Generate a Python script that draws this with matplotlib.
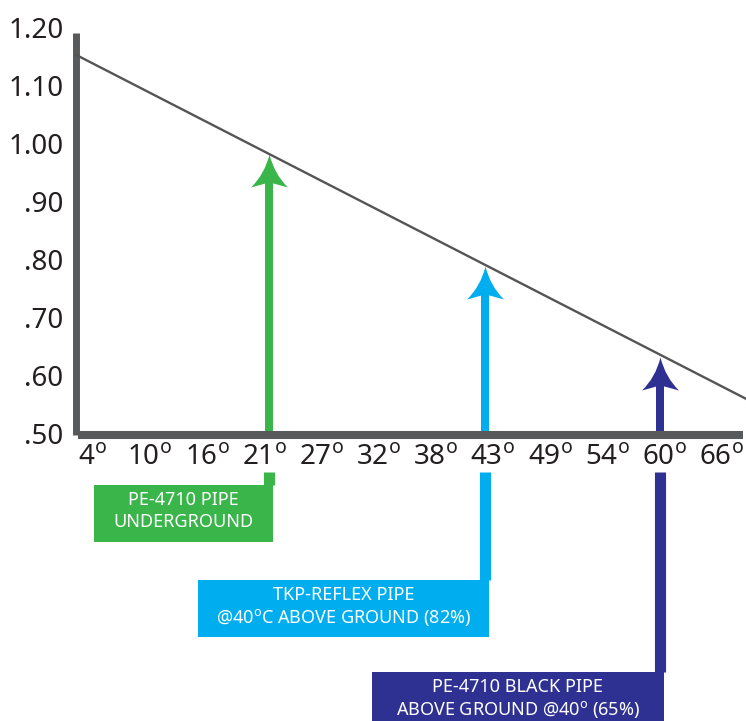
import matplotlib
matplotlib.use("Agg")
import matplotlib.pyplot as plt
from matplotlib.path import Path
from matplotlib.patches import Rectangle
from matplotlib.lines import Line2D
from matplotlib.transforms import IdentityTransform

plt.rcParams['font.family'] = ['Noto Sans', 'DejaVu Sans']
plt.rcParams['mathtext.fontset'] = 'custom'
plt.rcParams['mathtext.rm'] = 'Noto Sans'

# x categories (temperature, deg C) and y ticks
temps = ["4", "10", "16", "21", "27", "32", "38", "43", "49", "54", "60", "66"]
y_ticks = [0.5, 0.6, 0.7, 0.8, 0.9, 1.0, 1.1, 1.2]
y_labels = [".50", ".60", ".70", ".80", ".90", "1.00", "1.10", "1.20"]

# derating line, read at the left and right edges of the plot
line_x = [-0.29, 11.43]
line_y = [1.152, 0.559]

# pipes marked with arrows (two text lines per box)
pipe_line1 = ["PE-4710 PIPE", "TKP-REFLEX PIPE", "PE-4710 BLACK PIPE"]
pipe_line2 = ["UNDERGROUND",
              "@40$^{\\mathrm{o}}$C ABOVE GROUND (82%)",
              "ABOVE GROUND @40$^{\\mathrm{o}}$ (65%)"]
pipe_x = [3.09, 6.86, 9.92]
pipe_factor = [0.981, 0.788, 0.631]
pipe_colors = ["#39b54a", "#00aeef", "#2e3192"]

W, H = 746, 721
fig = plt.figure(figsize=(W / 100, H / 100), dpi=100)
ax = fig.add_axes([76 / W, 1 - 435 / H, (W - 76) / W, 408 / H])
ax.set_xlim(-0.29, 11.43)
ax.set_ylim(0.4966, 1.2)

axis_gray = "#58595b"
for s in ['top', 'right']:
    ax.spines[s].set_visible(False)
ax.spines['left'].set_linewidth(5)
ax.spines['left'].set_color(axis_gray)
ax.spines['left'].set_bounds(0.4966, 1.19)
ax.spines['left'].set_capstyle('butt')
ax.spines['bottom'].set_linewidth(5.8)
ax.spines['bottom'].set_color(axis_gray)
ax.spines['bottom'].set_bounds(-0.25, 11.37)
ax.spines['bottom'].set_capstyle('butt')

ax.set_xticks(range(len(temps)))
ax.set_xticklabels([t + "$^{\\mathrm{o}}$" for t in temps])
ax.set_yticks(y_ticks)
ax.set_yticklabels(y_labels)
ax.tick_params(axis='both', length=0, labelsize=20, labelcolor="#231f20")
ax.tick_params(axis='x', pad=6)
ax.tick_params(axis='y', pad=9)

ax.plot(line_x, line_y, color="#555555", lw=1.7, zorder=3, clip_on=False)

# arrow head marker: tip at origin, concave sides
head = Path([(0, 0), (5, -20), (18.5, -33), (4, -29), (-4, -29),
             (-18.5, -33), (-5, -20), (0, 0), (0, 0)],
            [Path.MOVETO, Path.CURVE3, Path.CURVE3, Path.LINETO, Path.LINETO,
             Path.LINETO, Path.CURVE3, Path.CURVE3, Path.CLOSEPOLY])
head_ms = 2 * 33 * 0.72

box_top = [485, 580, 672]
box_w = [179, 291, 292]
box_h = 57
shaft_w = 8

for i in range(len(pipe_x)):
    c = pipe_colors[i]
    ax.plot([pipe_x[i], pipe_x[i]], [0.4966, pipe_factor[i] - 0.05], color=c,
            lw=shaft_w * 0.72, solid_capstyle='butt', zorder=2)
    ax.plot([pipe_x[i]], [pipe_factor[i]], marker=head, ms=head_ms, color=c,
            mec='none', zorder=2.6, clip_on=False)

    # label box under the axis, right edge lined up with the shaft
    cx, _ = ax.transData.transform((pipe_x[i], 0.5))
    right = cx + shaft_w / 2
    left = right - box_w[i]
    top = H - box_top[i]
    fig.add_artist(Line2D([cx, cx], [H - 472, top], color=c, lw=shaft_w,
                          solid_capstyle='butt', transform=IdentityTransform()))
    fig.add_artist(Rectangle((left, top - box_h), box_w[i], box_h,
                             facecolor=c, edgecolor='none',
                             transform=IdentityTransform()))
    mid_x = (left + right) / 2 / W
    fig.text(mid_x, (top - 15) / H, pipe_line1[i], color='white',
             fontsize=13, ha='center', va='center')
    fig.text(mid_x, (top - 37) / H, pipe_line2[i], color='white',
             fontsize=13, ha='center', va='center')

fig.savefig("out.png", dpi=100)
